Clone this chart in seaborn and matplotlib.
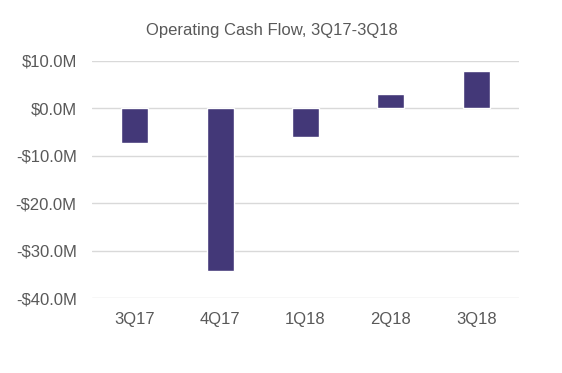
import matplotlib
matplotlib.use("Agg")
import matplotlib.pyplot as plt
import seaborn as sns
import pandas as pd
from matplotlib.ticker import FuncFormatter

quarters = ["3Q17", "4Q17", "1Q18", "2Q18", "3Q18"]
cash_flow_m = [-7.3, -34.3, -6.0, 3.0, 7.9]
title = "Operating Cash Flow, 3Q17-3Q18"

sns.set_theme(style="white")
plt.rcParams["font.family"] = ["Liberation Sans", "DejaVu Sans"]

df = pd.DataFrame({"quarter": quarters, "value": cash_flow_m})

fig = plt.figure(figsize=(5.62, 3.73), dpi=100)
ax = fig.add_axes([92 / 562, 1 - 298 / 373, (519 - 92) / 562, (298 - 61) / 373])

sns.barplot(data=df, x="quarter", y="value", color="#433878", saturation=1,
            width=0.316, ax=ax, zorder=3)

ax.set_ylim(-40, 10)
ax.set_yticks([10, 0, -10, -20, -30, -40])
ax.yaxis.set_major_formatter(FuncFormatter(
    lambda v, p: f"${v:.1f}M" if v >= 0 else f"-${-v:.1f}M"))
ax.grid(axis="y", color="#d9d9d9", linewidth=1, zorder=0)
ax.set_axisbelow(True)
for s in ax.spines.values():
    s.set_visible(False)
ax.set_xlabel("")
ax.set_ylabel("")
ax.tick_params(axis="both", length=0, labelsize=12, colors="#595959")
ax.tick_params(axis="y", pad=11)
ax.tick_params(axis="x", pad=10)
ax.set_xlim(-0.5, 4.5)

fig.text(272 / 562, 1 - 30 / 373, title, ha="center", va="center",
         fontsize=12, color="#595959")

fig.savefig("out.png", dpi=100, facecolor="white")
